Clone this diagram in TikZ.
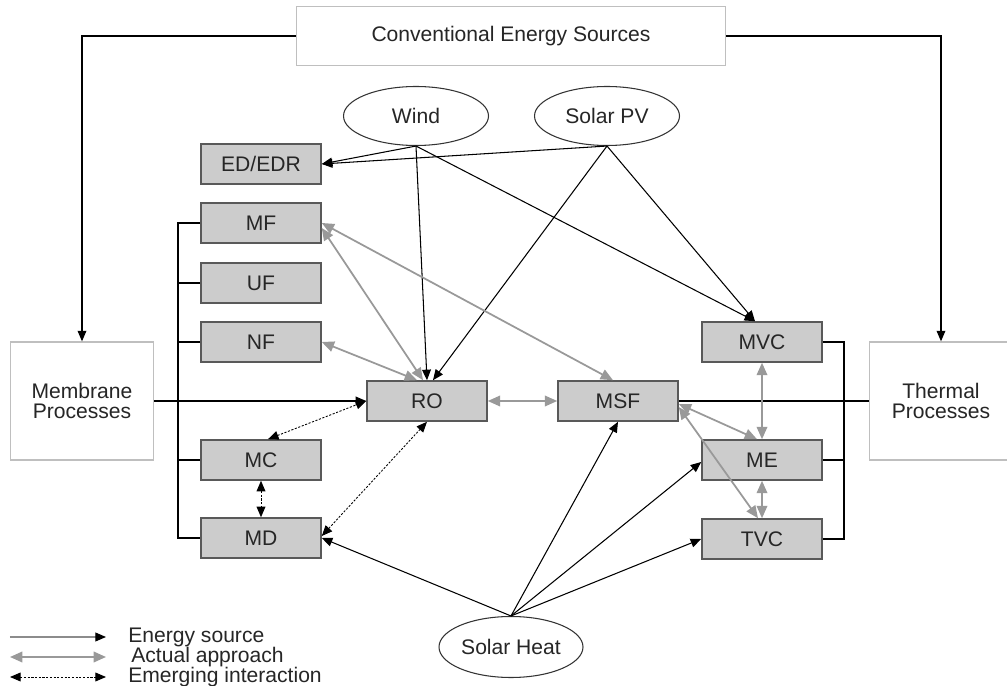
\documentclass[tikz,border=0pt]{standalone}
\usepackage{fontspec}
\setmainfont{Liberation Sans}
\usetikzlibrary{shapes.geometric, arrows.meta, positioning}
\tikzset{
    proc_box/.style={
        rectangle, draw=black!65, line width=0.9pt, fill=black!20,
        minimum width=2.4cm, minimum height=0.8cm, inner sep=0pt,
        font=\fontsize{12}{12}\selectfont, text=black!85
    },
    group_box/.style={
        rectangle, draw=black!25, line width=0.8pt, fill=white,
        minimum width=2.86cm, minimum height=2.36cm, inner sep=0pt,
        align=center, font=\fontsize{12}{11.5}\selectfont, text=black!85
    },
    src_oval/.style={
        ellipse, draw=black!80, line width=0.6pt, fill=white,
        minimum width=2.9cm, minimum height=1.18cm, inner sep=0pt,
        font=\fontsize{12}{12}\selectfont, text=black!85
    },
    energy_arrow/.style={
        -{Triangle[length=6pt,width=5pt]}, draw=black, line width=0.6pt
    },
    approach_arrow/.style={
        {Triangle[length=7pt,width=6pt]}-{Triangle[length=7pt,width=6pt]},
        draw=black!40, line width=1pt
    },
    emerging_arrow/.style={
        {Triangle[length=6pt,width=5pt]}-{Triangle[length=6pt,width=5pt]},
        draw=black, line width=0.5pt, dash pattern=on 1.2pt off 0.9pt
    },
    bus_line/.style={draw=black, line width=0.7pt},
    legend_txt/.style={
        anchor=west, inner sep=0pt, font=\fontsize{12}{12}\selectfont, text=black!85
    }
}

\begin{document}
\begin{tikzpicture}[>=Stealth]
    \useasboundingbox (0,0) rectangle (20.14,-13.72);

    % Sources
    \node[group_box, minimum width=8.58cm, minimum height=1.18cm] (ces) at (10.22,-0.72) {Conventional Energy Sources};
    \node[src_oval] (wind) at (8.32,-2.32) {Wind};
    \node[src_oval] (pv) at (12.14,-2.32) {Solar PV};
    \node[src_oval, minimum width=2.88cm, minimum height=1.22cm] (heat) at (10.22,-12.94) {Solar Heat};

    % Process groups
    \node[group_box] (mem) at (1.64,-8.02) {Membrane\\Processes};
    \node[group_box] (thm) at (18.82,-8.02) {Thermal\\Processes};

    % Membrane column
    \node[proc_box] (edr) at (5.22,-3.28) {ED/EDR};
    \node[proc_box] (mf) at (5.22,-4.46) {MF};
    \node[proc_box] (uf) at (5.22,-5.66) {UF};
    \node[proc_box] (nf) at (5.22,-6.84) {NF};
    \node[proc_box] (mc) at (5.22,-9.2) {MC};
    \node[proc_box] (md) at (5.22,-10.76) {MD};

    % Middle row
    \node[proc_box] (ro) at (8.54,-8.02) {RO};
    \node[proc_box] (msf) at (12.36,-8.02) {MSF};

    % Thermal column
    \node[proc_box] (mvc) at (15.24,-6.84) {MVC};
    \node[proc_box] (me) at (15.24,-9.2) {ME};
    \node[proc_box] (tvc) at (15.24,-10.78) {TVC};

    % Buses
    \coordinate (lbus) at (3.56,0);
    \coordinate (rbus) at (16.88,0);
    \draw[bus_line] (mf.west) -| (lbus |- md.west) -- (md.west);
    \foreach \n in {uf,nf,mc}
        \draw[bus_line] (\n.west) -- (lbus |- \n.west);
    \draw[bus_line] (mvc.east) -| (rbus |- tvc.east) -- (tvc.east);
    \draw[bus_line] (me.east) -- (rbus |- me.east);
    \draw[energy_arrow] (mem.east) -- (ro.west);
    \draw[bus_line] (thm.west) -- (msf.east);

    % Conventional energy
    \draw[energy_arrow] (ces.west) -| (mem.north);
    \draw[energy_arrow] (ces.east) -| (thm.north);

    % Renewable energy
    \draw[energy_arrow] (wind.south) -- (edr.east);
    \draw[energy_arrow] (pv.south) -- (edr.east);
    \draw[energy_arrow] (wind.south) -- (ro.north);
    \draw[energy_arrow] (pv.south) -- ([xshift=0.12cm]ro.north);
    \draw[energy_arrow] (wind.south) -- ([xshift=-0.14cm]mvc.north);
    \draw[energy_arrow] (pv.south) -- ([xshift=-0.14cm]mvc.north);
    \draw[energy_arrow] (heat.north) -- (md.east);
    \draw[energy_arrow] (heat.north) -- (msf.south);
    \draw[energy_arrow] (heat.north) -- ([yshift=-0.04cm]me.west);
    \draw[energy_arrow] (heat.north) -- (tvc.west);

    % Actual approach
    \draw[approach_arrow] ([yshift=-0.1cm]mf.east) -- ([xshift=-0.08cm]ro.north);
    \draw[approach_arrow] (nf.east) -- ([xshift=-0.2cm]ro.north);
    \draw[approach_arrow] (mf.east) -- ([xshift=-0.1cm]msf.north);
    \draw[approach_arrow] (ro.east) -- (msf.west);
    \draw[approach_arrow] (mvc.south) -- (me.north);
    \draw[approach_arrow] (me.south) -- (tvc.north);
    \draw[approach_arrow] ([yshift=-0.06cm]msf.east) -- ([xshift=-0.1cm]me.north);
    \draw[approach_arrow] ([yshift=-0.12cm]msf.east) -- ([xshift=-0.08cm]tvc.north);

    % Emerging interaction
    \draw[emerging_arrow] ([xshift=0.14cm]mc.north) -- (ro.west);
    \draw[emerging_arrow] (mc.south) -- (md.north);
    \draw[emerging_arrow] ([yshift=0.04cm]md.east) -- (ro.south);

    % Legend
    \coordinate (leg_es_a) at (0.2,-12.74);
    \coordinate (leg_es_b) at (2.12,-12.74);
    \coordinate (leg_aa_a) at (0.2,-13.14);
    \coordinate (leg_aa_b) at (2.12,-13.14);
    \coordinate (leg_ei_a) at (0.2,-13.54);
    \coordinate (leg_ei_b) at (2.12,-13.54);
    \draw[energy_arrow, draw=black!45, -{Triangle[length=6pt,width=5pt,color=black]}] (leg_es_a) -- (leg_es_b);
    \draw[approach_arrow] (leg_aa_a) -- (leg_aa_b);
    \draw[emerging_arrow] (leg_ei_a) -- (leg_ei_b);
    \node[legend_txt] (leg_es) at (2.56,-12.74) {Energy source};
    \node[legend_txt] (leg_aa) at (2.62,-13.14) {Actual approach};
    \node[legend_txt] (leg_ei) at (2.56,-13.54) {Emerging interaction};
\end{tikzpicture}
\end{document}
